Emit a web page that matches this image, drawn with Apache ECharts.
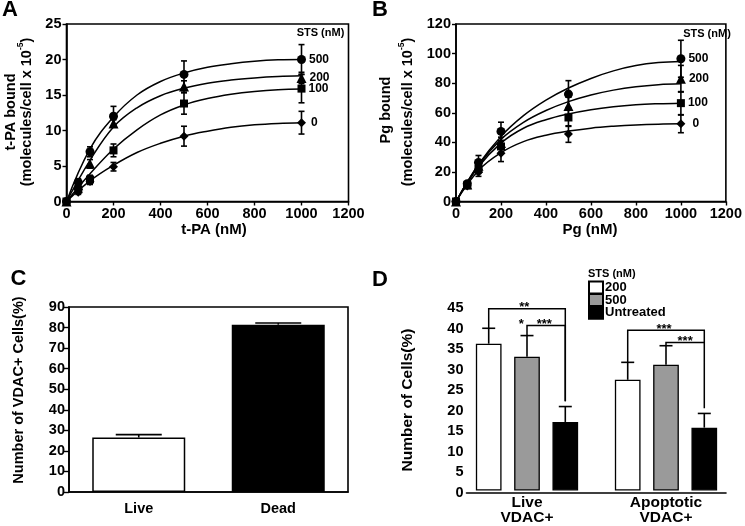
<!DOCTYPE html>
<html><head><meta charset="utf-8">
<script src="https://cdn.jsdelivr.net/npm/echarts@6/dist/echarts.min.js"></script>
<style>html,body{margin:0;padding:0;background:#fff;}#c{width:745px;height:526px;}</style>
</head><body><div id="c"></div>
<script>
// ---------- Panel A : t-PA bound ----------
const aX = [0, 50, 100, 200, 500, 1000];
const aMean500 = [0, 2.7, 7.0, 12.0, 17.9, 20.0];
const aErr500  = [0, 0.5, 0.7, 1.4, 1.9, 2.1];
const aMean200 = [0, 2.3, 5.3, 11.0, 16.2, 17.4];
const aErr200  = [0, 0.4, 0.6, 0.5, 0.8, 0.8];
const aMean100 = [0, 1.7, 3.1, 7.2, 13.8, 15.9];
const aErr100  = [0, 0.4, 0.6, 0.9, 1.5, 2.0];
const aMean0   = [0, 1.3, 2.8, 4.9, 9.2, 11.1];
const aErr0    = [0, 0.3, 0.4, 0.6, 1.4, 1.6];
const fitX     = [0, 100, 200, 300, 400, 500, 600, 700, 800, 900, 1000];
const aFit500  = [0, 7.4, 11.9, 15.0, 16.9, 18.1, 18.9, 19.4, 19.75, 19.95, 20.0];
const aFit200  = [0, 5.8, 10.5, 13.2, 14.9, 15.95, 16.65, 17.1, 17.4, 17.6, 17.7];
const aFit100  = [0, 3.9, 7.4, 10.1, 12.2, 13.6, 14.5, 15.1, 15.5, 15.75, 15.85];
const aFit0    = [0, 2.9, 5.1, 6.9, 8.2, 9.2, 9.9, 10.45, 10.8, 11.0, 11.1];
// ---------- Panel B : Pg bound ----------
const bX = [0, 50, 100, 200, 500, 1000];
const bMean500 = [0, 12, 26.4, 47.4, 72.6, 96.5];
const bErr500  = [0, 1.5, 4.7, 6.2, 9.1, 12.5];
const bMean200 = [0, 11.5, 24.1, 39.5, 64.5, 83];
const bErr200  = [0, 1.2, 3, 4, 6, 9];
const bMean100 = [0, 11, 22, 37.2, 56.8, 66.5];
const bErr100  = [0, 1.2, 3, 4, 6, 7.8];
const bMean0   = [0, 10.5, 19.8, 32.7, 45.6, 52.5];
const bErr0    = [0, 1, 2.8, 5.7, 5.6, 6];
const bFit500  = [0, 25, 44, 58, 68.5, 76.7, 83.2, 88.3, 91.9, 93.9, 94.7];
const bFit200  = [0, 24.5, 42, 53.5, 61.5, 67.5, 72, 75.3, 77.6, 79, 79.6];
const bFit100  = [0, 23.5, 39.5, 49.5, 55.3, 59.2, 62.1, 64.1, 65.4, 66.1, 66.5];
const bFit0    = [0, 21, 33, 40.5, 44.8, 47.6, 49.6, 50.9, 51.8, 52.3, 52.5];
const stsLabels = ['500', '200', '100', '0'];
// ---------- Panel C ----------
const cCats = ['Live', 'Dead'];
const cVals = [26.5, 81.4];
const cErr  = [1.4, 0.8];
// ---------- Panel D ----------
const dCats = ['Live\nVDAC+', 'Apoptotic\nVDAC+'];
const dNames = ['200', '500', 'Untreated'];
const d200 = [36.2, 27.3];
const d500 = [33.0, 31.0];
const dUnt = [16.9, 15.5];
const d200Err = [3.8, 4.3];
const d500Err = [5.2, 4.7];
const dUntErr = [3.8, 3.5];
// brackets: [group, fromBar, toBar, level, fromLow, toLow]
const dBrackets = [[0, 0, 2, 44.8, 40.0, 22.0], [0, 1, 2, 40.7, 38.2, 22.0], [1, 0, 2, 39.5, 31.6, 20.3], [1, 1, 2, 36.5, 35.7, 36.5]];
// stars: [group, barPos, level]
const dStarPos = [[0, 0.93, 44.8], [0, 0.85, 40.7], [0, 1.45, 40.7], [1, 0.95, 39.5], [1, 1.5, 36.5]];
const dStarText = ['**', '*', '***', '***', '***'];

const FONT = '"Liberation Sans", Arial, Helvetica, sans-serif';
const K = '#000';
const chart = echarts.init(document.getElementById('c'));

const D_BW = 25.7, D_GAP = 0.49, D_STEP = D_BW * (1 + D_GAP);
const plain = v => String(v);

function pairs(xs, ys) { return xs.map((x, i) => [x, ys[i]]); }
function triples(xs, ys, es) { return xs.map((x, i) => [x, ys[i], es[i]]); }

function errRender(capHalf, upOnly, dx) {
  return function (params, api) {
    const x = api.value(0), y = api.value(1), e = api.value(2);
    if (!e) return null;
    const top = api.coord([x, y + e]);
    const bot = api.coord([x, upOnly ? y : y - e]);
    const cx = top[0] + (dx || 0);
    const st = { stroke: K, lineWidth: 1.6 };
    const ch = [
      { type: 'line', shape: { x1: cx, y1: top[1], x2: cx, y2: bot[1] }, style: st },
      { type: 'line', shape: { x1: cx - capHalf, y1: top[1], x2: cx + capHalf, y2: top[1] }, style: st }
    ];
    if (!upOnly) ch.push({ type: 'line', shape: { x1: cx - capHalf, y1: bot[1], x2: cx + capHalf, y2: bot[1] }, style: st });
    return { type: 'group', children: ch };
  };
}

const axisFont = { fontFamily: FONT, fontWeight: 'bold', fontSize: 14.5, color: K, formatter: plain };

function frameAxes(gi, xmax, ymax, yint) {
  return {
    x: { gridIndex: gi, type: 'value', min: 0, max: xmax, interval: 200,
      axisLine: { show: true, onZero: false, lineStyle: { color: K, width: 1.6 } },
      axisTick: { show: true, inside: false, length: 4, lineStyle: { color: K, width: 1.4 } },
      axisLabel: Object.assign({ margin: 5, showMinLabel: true, showMaxLabel: true }, axisFont),
      splitLine: { show: false } },
    y: { gridIndex: gi, type: 'value', min: 0, max: ymax, interval: yint,
      axisLine: { show: true, onZero: false, lineStyle: { color: K, width: 1.6 } },
      axisTick: { show: true, inside: false, length: 4, lineStyle: { color: K, width: 1.4 } },
      axisLabel: Object.assign({ margin: 5, showMinLabel: true, showMaxLabel: true }, axisFont),
      splitLine: { show: false } }
  };
}

const fA = frameAxes(0, 1200, 25, 5);
const fB = frameAxes(1, 1200, 120, 20);

const symbols = ['circle', 'triangle', 'rect', 'diamond'];
const symSizes = [9, 10, 8, 9];

function curveSet(xi, fits, xs, means, errs, labelDx) {
  const out = [];
  fits.forEach((f) => {
    out.push({ type: 'line', xAxisIndex: xi, yAxisIndex: xi, data: pairs(fitX, f), smooth: 0.4,
      showSymbol: false, symbol: 'none', lineStyle: { color: K, width: 1.5, opacity: 1 }, silent: true, z: 2 });
  });
  means.forEach((m, k) => {
    out.push({ type: 'custom', xAxisIndex: xi, yAxisIndex: xi, data: triples(xs, m, errs[k]),
      renderItem: errRender(3, false, 0), z: 3, silent: true });
    out.push({ type: 'scatter', xAxisIndex: xi, yAxisIndex: xi, data: pairs(xs, m), symbol: symbols[k], symbolSize: symSizes[k],
      itemStyle: { color: K, opacity: 1 }, z: 4, silent: true,
      label: { show: true, position: 'right', distance: labelDx[k], color: K, opacity: 1, fontFamily: FONT, fontWeight: 'bold', fontSize: 12,
        formatter: p => (p.dataIndex === xs.length - 1 ? stsLabels[k] : '') } });
  });
  return out;
}

const seriesA = curveSet(0, [aFit500, aFit200, aFit100, aFit0], aX,
  [aMean500, aMean200, aMean100, aMean0], [aErr500, aErr200, aErr100, aErr0], [3, 3, 3, 5]);
const seriesB = curveSet(1, [bFit500, bFit200, bFit100, bFit0], bX,
  [bMean500, bMean200, bMean100, bMean0], [bErr500, bErr200, bErr100, bErr0], [3, 3, 3, 7]);

// Panel C
const seriesC = [
  { type: 'bar', xAxisIndex: 2, yAxisIndex: 2, data: cVals.map((v, i) => ({ value: v, itemStyle: { color: i === 0 ? '#fff' : K } })),
    barWidth: 93, itemStyle: { borderColor: K, borderWidth: 1.5 }, silent: true },
  { type: 'custom', xAxisIndex: 2, yAxisIndex: 2, data: cCats.map((c, i) => [i, cVals[i], cErr[i]]),
    renderItem: errRender(23, true, 0), z: 5, silent: true }
];

// Panel D
const dColors = ['#fff', '#9a9a9a', K];
const dVals = [d200, d500, dUnt];
const dErrs = [d200Err, d500Err, dUntErr];
const seriesD = [];
dVals.forEach((vals, k) => {
  seriesD.push({ type: 'bar', name: dNames[k], xAxisIndex: 3, yAxisIndex: 3, data: vals, barWidth: D_BW, barGap: (D_GAP * 100) + '%',
    itemStyle: { color: dColors[k], borderColor: K, borderWidth: 1.3 }, silent: true });
});
dVals.forEach((vals, k) => {
  seriesD.push({ type: 'custom', xAxisIndex: 3, yAxisIndex: 3, data: vals.map((v, i) => [i, v, dErrs[k][i]]),
    renderItem: errRender(6.5, true, (k - 1) * D_STEP), z: 5, silent: true });
});
seriesD.push({ type: 'custom', xAxisIndex: 3, yAxisIndex: 3, data: dBrackets, z: 6, silent: true,
  renderItem: function (params, api) {
    const g = api.value(0), fb = api.value(1), tb = api.value(2), lv = api.value(3), lo1 = api.value(4), lo2 = api.value(5);
    const base = api.coord([g, lv]);
    const x1 = base[0] + (fb - 1) * D_STEP, x2 = base[0] + (tb - 1) * D_STEP;
    const yl = base[1], y1 = api.coord([g, lo1])[1], y2 = api.coord([g, lo2])[1];
    return { type: 'polyline', shape: { points: [[x1, y1], [x1, yl], [x2, yl], [x2, y2]] }, style: { stroke: K, lineWidth: 1.5, fill: null } };
  } });
seriesD.push({ type: 'custom', xAxisIndex: 3, yAxisIndex: 3, data: dStarPos, z: 6, silent: true,
  renderItem: function (params, api) {
    const g = api.value(0), bp = api.value(1), lv = api.value(2);
    const base = api.coord([g, lv]);
    return { type: 'text', x: base[0] + (bp - 1) * D_STEP, y: base[1] - 1,
      style: { text: dStarText[params.dataIndex], font: 'bold 13px ' + FONT, fill: K, align: 'center', verticalAlign: 'middle', textAlign: 'center', textVerticalAlign: 'middle' } };
  } });

function vtext(x, y, text, size, rich) {
  return { type: 'text', x: x, y: y, rotation: Math.PI / 2,
    style: { text: text, font: 'bold ' + size + 'px ' + FONT, fill: K, align: 'center', verticalAlign: 'middle', textAlign: 'center', textVerticalAlign: 'middle', rich: rich } };
}
function htext(x, y, text, size, align) {
  return { type: 'text', x: x, y: y,
    style: { text: text, font: 'bold ' + size + 'px ' + FONT, fill: K, align: align || 'center', verticalAlign: 'middle', textAlign: align || 'center', textVerticalAlign: 'middle' } };
}
const supRich = {
  a: { fontFamily: FONT, fontWeight: 'bold', fontSize: 14.5, lineHeight: 18, verticalAlign: 'bottom' },
  s: { fontFamily: FONT, fontWeight: 'bold', fontSize: 8.5, lineHeight: 18, verticalAlign: 'top' }
};
const molText = '{a|(molecules/cell x 10}{s|-5}{a|)}';

const option = {
  animation: false,
  backgroundColor: '#fff',
  grid: [
    { left: 66.5, top: 24, width: 282, height: 177.5, show: true, borderColor: K, borderWidth: 1.6, backgroundColor: 'transparent' },
    { left: 456, top: 24, width: 277.5, height: 177.5, show: true, borderColor: K, borderWidth: 1.6, backgroundColor: 'transparent' },
    { left: 69, top: 307, width: 279, height: 185, show: true, borderColor: K, borderWidth: 1.6, backgroundColor: 'transparent' },
    { left: 457.5, top: 308, width: 278, height: 185 },
    { left: 466.5, top: 308, width: 259.5, height: 185 }
  ],
  xAxis: [
    fA.x, fB.x,
    { gridIndex: 2, type: 'category', data: cCats, axisLine: { show: true, lineStyle: { color: K, width: 1.6 } }, axisTick: { show: false },
      axisLabel: Object.assign({ margin: 9 }, axisFont, { fontSize: 14.5 }) },
    { gridIndex: 3, type: 'category', data: dCats, axisLine: { show: false }, axisTick: { show: false },
      axisLabel: Object.assign({ margin: 5, lineHeight: 15 }, axisFont, { fontSize: 15.5 }) },
    { gridIndex: 4, type: 'value', min: 0, max: 1, axisLine: { show: true, lineStyle: { color: K, width: 1.6 } }, axisTick: { show: false },
      axisLabel: { show: false }, splitLine: { show: false } }
  ],
  yAxis: [
    fA.y, fB.y,
    { gridIndex: 2, type: 'value', min: 0, max: 90, interval: 10, axisLine: { show: true, lineStyle: { color: K, width: 1.6 } },
      axisTick: { show: true, length: 5, lineStyle: { color: K, width: 1.4 } }, axisLabel: Object.assign({ margin: 4 }, axisFont), splitLine: { show: false } },
    { gridIndex: 3, type: 'value', min: 0, max: 45, interval: 5, show: false, splitLine: { show: false } },
    { gridIndex: 4, type: 'value', min: 0, max: 45, interval: 5, axisLine: { show: false }, axisTick: { show: false },
      axisLabel: Object.assign({ margin: 3, showMinLabel: true, showMaxLabel: true }, axisFont), splitLine: { show: false } }
  ],
  legend: { left: 588, top: 280.5, orient: 'vertical', padding: 0, itemWidth: 14, itemHeight: 12, itemGap: -1.4, icon: 'rect',
    selectedMode: false, data: dNames,
    textStyle: { fontFamily: FONT, fontWeight: 'bold', fontSize: 13, color: K, padding: [0, 0, 0, -3] } },
  graphic: [
    htext(10, 10, 'A', 22), htext(380, 10, 'B', 22), htext(18.5, 279, 'C', 22), htext(380, 279.5, 'D', 22),
    vtext(11, 112, 't-PA bound', 14.5), vtext(25.5, 112, molText, 14.5, supRich),
    vtext(386, 110, 'Pg bound', 14.5), vtext(406, 112, molText, 14.5, supRich),
    htext(214, 230, 't-PA (nM)', 15), htext(590, 230, 'Pg (nM)', 15),
    htext(320.5, 33, 'STS (nM)', 11), htext(707, 34, 'STS (nM)', 11),
    vtext(19, 390, 'Number of VDAC+ Cells(%)', 14.5), vtext(408, 400, 'Number of Cells(%)', 15.5),
    htext(588, 274, 'STS (nM)', 11, 'left')
  ],
  series: [].concat(seriesA, seriesB, seriesC, seriesD)
};
chart.setOption(option);
</script>
</body></html>
